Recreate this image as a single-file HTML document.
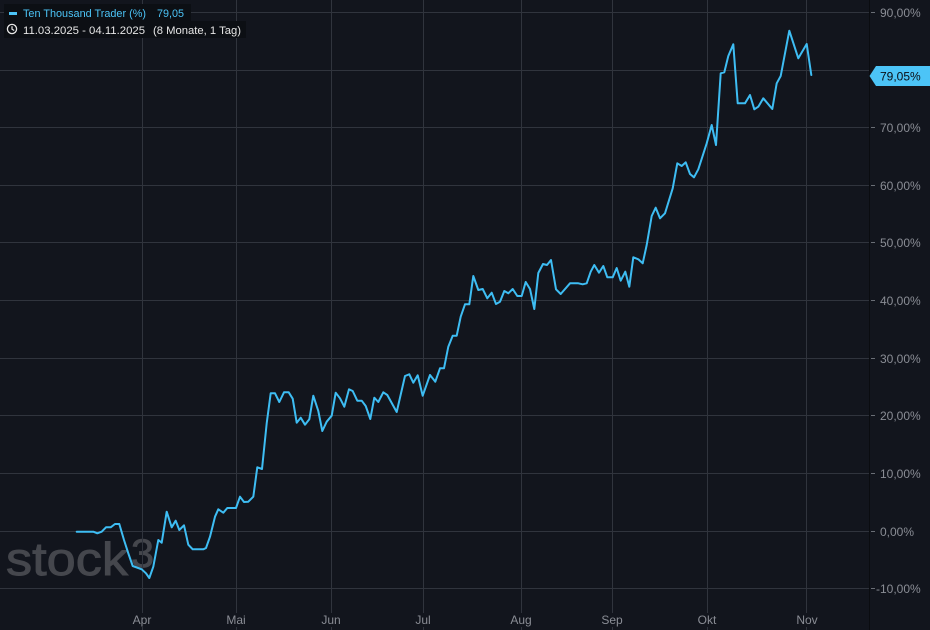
<!DOCTYPE html>
<html><head><meta charset="utf-8"><style>
html,body{margin:0;padding:0;background:#12151d;}
svg{display:block;}
text{font-family:"Liberation Sans",sans-serif;}
</style></head><body>
<svg width="930" height="630" viewBox="0 0 930 630" xmlns="http://www.w3.org/2000/svg">
<rect x="0" y="0" width="930" height="630" fill="#12151d"/>
<!-- watermark -->
<text x="6" y="575" font-size="46" fill="#45474d" stroke="#45474d" stroke-width="0.9" textLength="122" lengthAdjust="spacingAndGlyphs">stock</text>
<text x="131" y="567" font-size="40" fill="#45474d" stroke="#45474d" stroke-width="0.8" textLength="23" lengthAdjust="spacingAndGlyphs">3</text>
<!-- horizontal grid -->
<g stroke="#30343d" stroke-width="1">
<line x1="0" y1="12.5" x2="869" y2="12.5"/>
<line x1="0" y1="70.5" x2="869" y2="70.5"/>
<line x1="0" y1="127.5" x2="869" y2="127.5"/>
<line x1="0" y1="185.5" x2="869" y2="185.5"/>
<line x1="0" y1="242.5" x2="869" y2="242.5"/>
<line x1="0" y1="300.5" x2="869" y2="300.5"/>
<line x1="0" y1="358.5" x2="869" y2="358.5"/>
<line x1="0" y1="415.5" x2="869" y2="415.5"/>
<line x1="0" y1="473.5" x2="869" y2="473.5"/>
<line x1="0" y1="531.5" x2="869" y2="531.5"/>
<line x1="0" y1="588.5" x2="869" y2="588.5"/>
<!-- vertical grid -->
<line x1="142.5" y1="0" x2="142.5" y2="630"/>
<line x1="236.5" y1="0" x2="236.5" y2="630"/>
<line x1="331.5" y1="0" x2="331.5" y2="630"/>
<line x1="423.5" y1="0" x2="423.5" y2="630"/>
<line x1="521.5" y1="0" x2="521.5" y2="630"/>
<line x1="612.5" y1="0" x2="612.5" y2="630"/>
<line x1="707.5" y1="0" x2="707.5" y2="630"/>
<line x1="806.5" y1="0" x2="806.5" y2="630"/>
</g>
<!-- right axis ticks -->
<g stroke="#6a6e76" stroke-width="1">
<line x1="871" y1="12.5" x2="875" y2="12.5"/>
<line x1="871" y1="127.5" x2="875" y2="127.5"/>
<line x1="871" y1="185.5" x2="875" y2="185.5"/>
<line x1="871" y1="242.5" x2="875" y2="242.5"/>
<line x1="871" y1="300.5" x2="875" y2="300.5"/>
<line x1="871" y1="358.5" x2="875" y2="358.5"/>
<line x1="871" y1="415.5" x2="875" y2="415.5"/>
<line x1="871" y1="473.5" x2="875" y2="473.5"/>
<line x1="871" y1="531.5" x2="875" y2="531.5"/>
<line x1="871" y1="588.5" x2="875" y2="588.5"/>
</g>
<line x1="869.5" y1="0" x2="869.5" y2="630" stroke="#0a0c10" stroke-width="1"/>
<!-- right axis labels -->
<g font-size="12" fill="#8a8d95">
<text x="880" y="17">90,00%</text>
<text x="880" y="75">80,00%</text>
<text x="880" y="132">70,00%</text>
<text x="880" y="190">60,00%</text>
<text x="880" y="247">50,00%</text>
<text x="880" y="305">40,00%</text>
<text x="880" y="363">30,00%</text>
<text x="880" y="420">20,00%</text>
<text x="880" y="478">10,00%</text>
<text x="880" y="536">0,00%</text>
<text x="876" y="593">-10,00%</text>
</g>
<!-- month labels -->
<g font-size="12" fill="#8a8d95" text-anchor="middle">
<rect x="130" y="613" width="25" height="14" fill="#12151d"/>
<text x="142" y="624">Apr</text>
<rect x="225" y="613" width="23" height="14" fill="#12151d"/>
<text x="236" y="624">Mai</text>
<rect x="320" y="613" width="22" height="14" fill="#12151d"/>
<text x="331" y="624">Jun</text>
<rect x="414" y="613" width="18" height="14" fill="#12151d"/>
<text x="423" y="624">Jul</text>
<rect x="509" y="613" width="25" height="14" fill="#12151d"/>
<text x="521" y="624">Aug</text>
<rect x="601" y="613" width="24" height="14" fill="#12151d"/>
<text x="612" y="624">Sep</text>
<rect x="696" y="613" width="23" height="14" fill="#12151d"/>
<text x="707" y="624">Okt</text>
<rect x="795" y="613" width="24" height="14" fill="#12151d"/>
<text x="807" y="624">Nov</text>
</g>
<!-- series -->
<polyline fill="none" stroke="#3ebdf3" stroke-width="2" stroke-linejoin="round" stroke-linecap="round" points="
76.7,531.7 93.3,531.7 97.3,533.3 101.7,531.7 106,527.3 110.7,527.3 115,524 119.3,524 124,540 128.3,553.3 132.7,566 141.7,569.3 146,573.3 149.3,578 153.3,566.7 158.3,540 161.7,542.7 166.7,511.7 171.7,527.3 175.7,520.7 179.3,530 184,525.3 188.3,544.7 192.7,549.3 203.3,549.3 206,548 210,536.7 215,516.7 218.3,509.3 223.3,512.7 227.3,508 236,508 240,496.7 244,502 248.3,501.7 253.3,496.7 257.3,467.3 262,469 266.7,423.3 270.7,393.3 275,393.3 279.3,402 284,392.3 288.7,392.3 292.7,398.7 296.7,422.7 300.7,417.7 305,424.7 309.3,419.3 313.3,395.7 318.3,411 322.3,431 326.7,421.7 331.7,415.7 335.7,392.7 340,398.3 344.3,406.7 349,389.3 352.7,391 357.3,400.7 361.7,400.7 365.7,406 370.3,419 374.3,397.7 378.3,402 383.3,392.3 387.3,395 396.7,412 405,376 409.3,374.3 413.3,382.7 417.7,375.3 422.7,395.7 430,375 435.3,381.7 440,368.3 444,368.3 448.3,346.7 452.7,335.7 456.7,335.7 460.7,316.7 465,304.3 469.3,304.3 473.3,276 478.3,290 482.7,289 487.3,298.3 491.7,292.7 496,304 500,301.7 504.3,291 508.3,293.3 512.7,289 517.3,296 521.7,296 525.7,282 530,289 534.3,309 538.3,273 543,264 547,265 551,260 556,289.3 560.7,294 570,283.3 578.3,283.3 582.7,284.3 586.7,283.3 590.7,271.7 594.3,265 599,272.7 603.3,266 607.3,277.3 612.7,277.3 616.7,268 620.7,280.7 625.3,271.7 629.3,286.7 633.3,257.3 638.3,259.3 642.7,263.3 646.7,245 651.7,216 655.7,207.7 660,218.3 665,213.3 672.7,188.3 677.3,163.3 681.7,166 685.7,162.3 690,174 694,177.3 698.3,169.3 706.7,143.3 711.7,125 716,145 720.7,73.3 724.3,72.3 728.3,56 733.3,44.3 737.7,103.3 745,103.3 750,95 754.3,109.3 758.3,106.7 763.3,98.3 772.3,109 776.7,83.3 780.7,76 789.3,30.7 798.3,58.3 806.7,44 811.3,75"/>
<!-- price tag -->
<polygon points="869.5,76 876,66 930,66 930,86 876,86" fill="#4cc4f7"/>
<text x="880" y="80.5" font-size="12" fill="#0b0e14">79,05%</text>
<!-- legend -->
<rect x="4" y="4" width="187" height="17" fill="#0c0f14"/>
<rect x="4" y="21" width="242" height="17" fill="#0c0f14"/>
<rect x="9" y="12" width="8" height="3" fill="#4cc4f7"/>
<text x="23" y="17" font-size="11" fill="#4cc4f7" textLength="123" lengthAdjust="spacingAndGlyphs">Ten Thousand Trader (%)</text>
<text x="157" y="17" font-size="11" fill="#4cc4f7" textLength="27" lengthAdjust="spacingAndGlyphs">79,05</text>
<circle cx="12" cy="29" r="4.6" fill="none" stroke="#e6e6e6" stroke-width="1.3"/>
<polyline points="12,26.3 12,29.2 14.2,30.5" fill="none" stroke="#e6e6e6" stroke-width="1.2"/>
<text x="23" y="34" font-size="11" fill="#e6e6e6" textLength="122" lengthAdjust="spacingAndGlyphs">11.03.2025 - 04.11.2025</text>
<text x="153" y="34" font-size="11" fill="#e6e6e6" textLength="88" lengthAdjust="spacingAndGlyphs">(8 Monate, 1 Tag)</text>
</svg>
</body></html>
